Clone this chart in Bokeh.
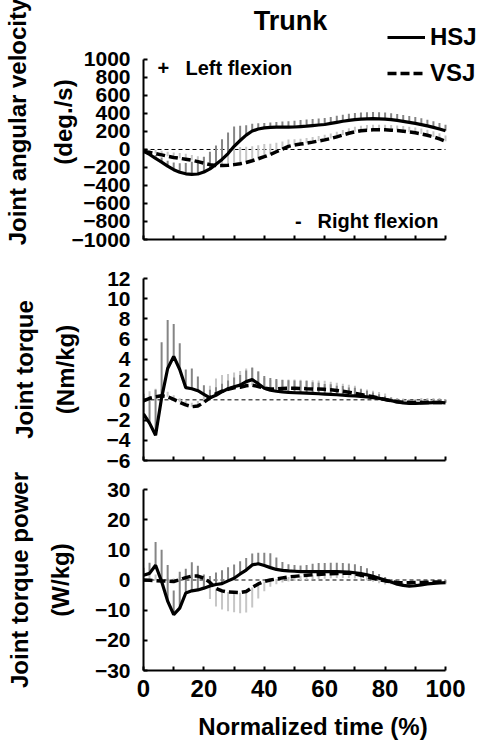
import numpy as np
from bokeh.plotting import figure
from bokeh.layouts import column
from bokeh.models import Range1d, FixedTicker, Label, Legend, LegendItem, LinearAxis
from bokeh.embed import file_html
from bokeh.resources import INLINE

# ---------------- data ----------------
time_pct = list(range(0, 101, 2))

# angular velocity (deg/s)
vel_hsj = [-20, -55, -100, -140, -185, -225, -252, -270, -276, -272,
           -250, -215, -165, -110, -45, 35, 100, 160, 205, 228,
           240, 246, 248, 248, 248, 250, 255, 260, 266, 272,
           278, 290, 302, 314, 324, 332, 338, 341, 342, 341,
           338, 332, 323, 313, 302, 290, 277, 262, 246, 228, 208]
vel_hsj_sd = [20, 30, 40, 50, 60, 80, 100, 120, 140, 155,
              170, 190, 210, 225, 235, 220, 165, 110, 80, 65,
              55, 55, 58, 62, 66, 70, 72, 72, 72, 72,
              72, 72, 72, 73, 74, 74, 74, 74, 74, 74,
              73, 72, 72, 71, 70, 70, 69, 68, 68, 67, 66]
vel_vsj = [-20, -32, -45, -60, -75, -88, -98, -108, -120, -135,
           -152, -168, -177, -178, -175, -168, -158, -145, -125, -103,
           -80, -55, -25, 5, 35, 50, 60, 70, 82, 95,
           107, 122, 140, 160, 180, 196, 208, 215, 219, 220,
           219, 215, 210, 203, 195, 185, 173, 158, 140, 118, 92]
vel_vsj_sd = [20, 30, 40, 45, 50, 55, 60, 60, 60, 60,
              70, 100, 140, 170, 190, 190, 185, 175, 160, 150,
              140, 120, 100, 85, 75, 65, 60, 58, 56, 56,
              56, 56, 56, 56, 56, 56, 56, 56, 55, 55,
              55, 56, 57, 58, 59, 60, 60, 61, 62, 62, 63]

# joint torque (Nm/kg)
trq_hsj = [-1.4, -2.3, -3.5, 0.2, 3.1, 4.3, 3.0, 1.2, 1.1, 0.9,
           0.55, 0.2, 0.45, 0.8, 1.1, 1.3, 1.45, 1.8, 2.0, 1.6,
           1.15, 0.95, 0.85, 0.78, 0.73, 0.7, 0.68, 0.66, 0.63, 0.6,
           0.57, 0.54, 0.5, 0.46, 0.42, 0.4, 0.35, 0.3, 0.22, 0.15,
           0.05, -0.08, -0.2, -0.3, -0.35, -0.36, -0.34, -0.3, -0.27, -0.26, -0.3]
trq_hsj_sd = [2.0, 2.5, 4.5, 5.5, 4.8, 3.2, 2.6, 1.8, 2.0, 1.4,
              0.9, 0.8, 0.8, 0.8, 0.8, 0.9, 1.0, 1.1, 1.2, 1.2,
              1.2, 1.2, 1.2, 1.2, 1.2, 1.2, 1.2, 1.2, 1.1, 1.1,
              1.0, 1.0, 0.9, 0.9, 0.8, 0.8, 0.7, 0.6, 0.5, 0.4,
              0.3, 0.3, 0.3, 0.3, 0.3, 0.3, 0.3, 0.3, 0.3, 0.3, 0.3]
trq_vsj = [-0.1, 0.15, 0.3, 0.4, 0.3, 0.05, -0.25, -0.5, -0.68, -0.62,
           -0.25, 0.2, 0.6, 0.85, 1.05, 1.2, 1.25, 1.4, 1.45, 1.32,
           1.15, 1.07, 1.08, 1.12, 1.15, 1.15, 1.13, 1.1, 1.08, 1.06,
           1.04, 1.0, 0.93, 0.85, 0.75, 0.65, 0.53, 0.42, 0.3, 0.17,
           0.03, -0.1, -0.18, -0.23, -0.26, -0.27, -0.27, -0.26, -0.26, -0.26, -0.26]
trq_vsj_sd = [0.5, 0.7, 0.8, 0.7, 0.5, 0.4, 0.4, 0.4, 0.4, 0.5,
              0.8, 1.2, 1.5, 1.6, 1.5, 1.5, 1.6, 1.7, 1.7, 1.5,
              1.0, 0.9, 0.85, 0.85, 0.85, 0.85, 0.85, 0.85, 0.85, 0.85,
              0.85, 0.8, 0.75, 0.75, 0.75, 0.75, 0.6, 0.6, 0.6, 0.6,
              0.6, 0.35, 0.35, 0.35, 0.35, 0.35, 0.45, 0.45, 0.45, 0.45, 0.3]

# joint torque power (W/kg)
pow_hsj = [1.6, 2.2, 4.9, -0.5, -7.0, -11.5, -9.3, -4.3, -3.6, -3.3,
           -2.7, -2.0, -1.5, -1.2, -0.3, 0.6, 2.0, 3.3, 5.0, 5.4,
           4.8, 4.1, 3.5, 3.2, 3.0, 2.9, 2.8, 2.8, 2.8, 2.8,
           2.8, 2.8, 2.8, 2.7, 2.6, 2.4, 2.1, 1.7, 1.2, 0.6,
           0.0, -0.7, -1.4, -1.8, -2.0, -1.9, -1.6, -1.3, -1.1, -1.0, -0.9]
pow_hsj_sd = [2.5, 3.5, 7.7, 10.5, 12, 8, 12, 8, 9.5, 8,
              4.5, 3.3, 4, 4.4, 4.5, 4.5, 4.2, 4, 3.8, 3.6,
              4.2, 4.8, 4, 2.8, 2.2, 2.1, 2, 2.2, 2.6, 2.8,
              2.8, 2.9, 2.9, 2.9, 2.9, 2.8, 2.5, 2.2, 1.8, 1.4,
              1.0, 0.8, 0.6, 0.5, 0.5, 0.7, 0.8, 0.9, 1.0, 1.0, 1.0]
pow_vsj = [0, -0.1, -0.2, -0.3, -0.4, -0.5, 0.1, 0.8, 1.3, 1.3,
           0.6, -0.8, -2.8, -3.6, -4.0, -4.1, -4.2, -3.8, -2.5, -1.3,
           -0.5, 0.0, 0.35, 0.7, 1.0, 1.2, 1.4, 1.6, 1.75, 1.85,
           1.95, 2.05, 2.15, 2.2, 2.2, 2.0, 1.6, 1.1, 0.6, 0.1,
           -0.3, -0.6, -0.8, -0.9, -0.9, -0.85, -0.8, -0.75, -0.7, -0.65, -0.6]
pow_vsj_sd = [3, 3, 2, 1, 1, 1, 1, 1, 1, 1,
              -3, -5.5, -6, -6.2, -6.4, -6.6, -6.8, -7, -6.6, -4.8,
              -3.2, -2.2, -1.8, -1.5, -1.5, -1.5, -1.5, -1.5, -1.5, -1.5,
              -1.5, -1.5, -1.5, -1.5, -1.5, -1.5, -1.2, -1.2, -1.2, -1.2,
              -1.2, -0.8, -0.8, -0.8, -0.8, -0.8, -0.8, -0.8, -0.8, -0.8, -0.8]

vel_ticks = list(range(-1000, 1001, 200))
trq_ticks = list(range(-6, 13, 2))
pow_ticks = list(range(-30, 31, 10))
x_major = [0, 20, 40, 60, 80, 100]
x_minor = [10, 30, 50, 70, 90]
x_all = [0, 10, 20, 30, 40, 50, 60, 70, 80, 90, 100]

FONT = "Liberation Sans"
DARK = "#858585"
LIGHT = "#c6c6c6"
X_END = 112.25   # frame runs on to the right edge so legend text is not clipped


def style_axis(ax):
    ax.axis_line_width = 2
    ax.axis_line_color = "black"
    ax.major_tick_in = 4
    ax.major_tick_out = 0
    ax.major_tick_line_width = 2
    ax.minor_tick_in = 4
    ax.minor_tick_out = 0
    ax.minor_tick_line_width = 2
    ax.major_label_text_font = FONT
    ax.major_label_text_font_style = "bold"
    ax.major_label_text_color = "black"
    ax.axis_label_text_font = FONT
    ax.axis_label_text_font_style = "bold"
    ax.axis_label_text_font_size = "24px"
    ax.axis_label_text_color = "black"


def label_axis(text, standoff, bounds):
    ax = LinearAxis(ticker=FixedTicker(ticks=[]), axis_label=text,
                    axis_label_standoff=standoff)
    style_axis(ax)
    ax.axis_line_color = None
    ax.major_tick_in = 0
    ax.minor_tick_in = 0
    ax.major_label_standoff = 0
    if bounds is not None:
        ax.bounds = bounds
    return ax


def make_fig(height, top, bottom, yr, yticks, inner_label, s_in, outer_label,
             s_out, label_bounds, show_xlabels):
    p = figure(width=482, height=height, min_border_left=143, min_border_right=0,
               min_border_top=top, min_border_bottom=bottom,
               x_range=Range1d(0, X_END), y_range=Range1d(*yr),
               output_backend="svg", toolbar_location=None, title=None)
    p.grid.visible = False
    p.outline_line_color = None
    xa = p.xaxis[0]
    ya = p.yaxis[0]
    style_axis(xa)
    style_axis(ya)
    xa.bounds = (x_all[0], x_all[-1])
    ya.bounds = (yticks[0], yticks[-1])
    if show_xlabels:
        xa.ticker = FixedTicker(ticks=x_major, minor_ticks=x_minor)
        xa.major_label_text_font_size = "24px"
        xa.major_label_standoff = 9
        xa.axis_label = "Normalized time (%)"
        xa.axis_label_standoff = 13
    else:
        xa.ticker = FixedTicker(ticks=[], minor_ticks=x_all)
        xa.major_label_standoff = 0
    ya.ticker = FixedTicker(ticks=yticks)
    ya.major_label_text_font_size = "21px"
    ya.major_label_standoff = 13
    p.add_layout(label_axis(inner_label, s_in, label_bounds), "left")
    p.add_layout(label_axis(outer_label, s_out, label_bounds), "left")
    # zero reference line across the time axis
    p.segment(x0=[time_pct[0]], y0=[0], x1=[time_pct[-1]], y1=[0],
              line_color="black", line_width=1, line_dash="4 3")
    return p


def draw(p, hsj, hsj_sd, vsj, vsj_sd):
    t = np.array(time_pct, dtype=float)
    h = np.array(hsj, dtype=float)
    v = np.array(vsj, dtype=float)
    p.segment(x0=t, y0=v, x1=t, y1=v + np.array(vsj_sd, dtype=float),
              line_color=LIGHT, line_width=2)
    p.segment(x0=t, y0=h, x1=t, y1=h + np.array(hsj_sd, dtype=float),
              line_color=DARK, line_width=2)
    r_v = p.line(t, v, line_color="black", line_width=3.5, line_dash="9 4")
    r_h = p.line(t, h, line_color="black", line_width=3.2)
    return r_h, r_v


def text(p, x, y, s, size, align="center"):
    p.add_layout(Label(x=x, y=y, text=s, text_align=align,
                       text_baseline="middle", text_font=FONT,
                       text_font_style="bold", text_font_size=size,
                       text_color="black"))


# ---------------- panel 1 (frame stretched up to hold title & legend) ----------------
p1 = make_fig(249, 4, 10, (-1000, 1611), vel_ticks,
              "(deg./s)", -8, "Joint angular velocity", 16, (-644, 1000), False)
r_h, r_v = draw(p1, vel_hsj, vel_hsj_sd, vel_vsj, vel_vsj_sd)
text(p1, 48.7, 1433, "Trunk", "27px")
text(p1, 6.6, 911, "+", "20px")
text(p1, 13.9, 911, "Left flexion", "20px", align="left")
text(p1, 51.3, -789, "-", "20px")
text(p1, 57.6, -789, "Right flexion", "20px", align="left")
legend = Legend(items=[LegendItem(label="HSJ", renderers=[r_h]),
                       LegendItem(label="VSJ", renderers=[r_v])],
                location=(244, 151), orientation="vertical",
                glyph_width=38, glyph_height=30, label_height=30,
                label_standoff=5, spacing=6, padding=0, margin=0,
                border_line_alpha=0, background_fill_alpha=0,
                label_text_font=FONT, label_text_font_style="bold",
                label_text_font_size="24px", label_text_color="black")
p1.add_layout(legend, "center")

# ---------------- panel 2 ----------------
p2 = make_fig(221, 29, 10, (-6, 12), trq_ticks,
              "(Nm/kg)", 25, "Joint torque", 11, None, False)
draw(p2, trq_hsj, trq_hsj_sd, trq_vsj, trq_vsj_sd)

# ---------------- panel 3 ----------------
p3 = make_fig(272, 19, 71, (-30, 30), pow_ticks,
              "(W/kg)", 18, "Joint torque power", 11, None, True)
draw(p3, pow_hsj, pow_hsj_sd, pow_vsj, pow_vsj_sd)

layout = column(p1, p2, p3, spacing=0)
open("out.html", "w").write(file_html(layout, INLINE))
